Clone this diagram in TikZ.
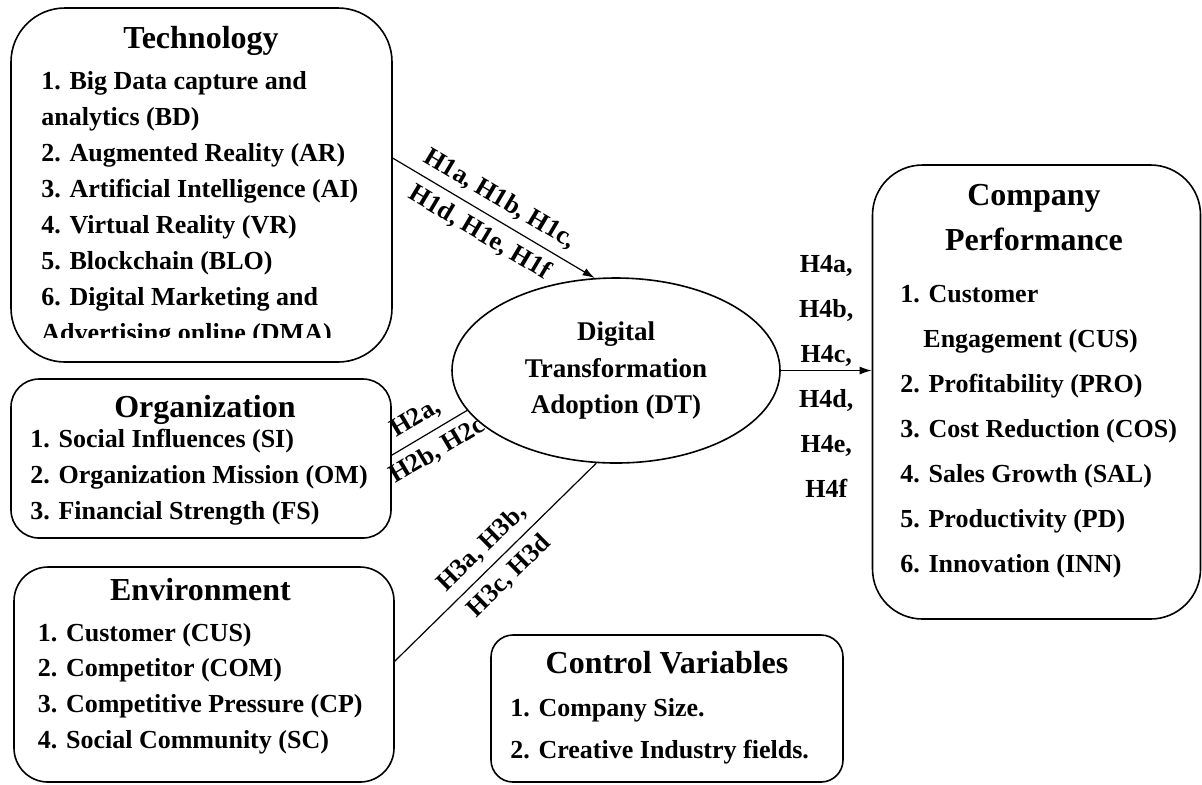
\documentclass[tikz,border=0pt]{standalone}
\usepackage{fontspec}
\setmainfont{Liberation Serif}
\usetikzlibrary{shapes.geometric,arrows.meta}
\tikzset{
  groupbox/.style={draw, line width=0.8pt, inner sep=0pt},
  heading/.style={font=\fontsize{16}{#1}\selectfont\bfseries, inner sep=0pt, align=center},
  heading/.default=20pt,
  itemlist/.style={font=\fontsize{13}{#1}\selectfont\bfseries, inner sep=0pt, align=left},
  itemlist/.default=18pt,
  hyplabel/.style={font=\fontsize{13}{22.5}\selectfont\bfseries, inner sep=4pt},
  link/.style={line width=0.6pt},
  tip/.style={-{Latex[length=6pt,width=4pt]}}
}
\pgfdeclarelayer{behind}
\pgfsetlayers{behind,main}

\begin{document}
\begin{tikzpicture}[x=0.5pt, y=-0.5pt]
  \useasboundingbox (0,0) rectangle (1202,784);

  % boxes
  \node[groupbox, minimum width=190.5pt, minimum height=177pt, rounded corners=27pt] (tech) at (201.5,185) {};
  \node[groupbox, minimum width=190pt, minimum height=79.5pt, rounded corners=14pt] (org) at (201,458.5) {};
  \node[groupbox, minimum width=190pt, minimum height=107.5pt, rounded corners=17pt] (env) at (204,674.5) {};
  \node[groupbox, minimum width=164pt, minimum height=227pt, rounded corners=25pt] (comp) at (1036.5,392) {};
  \node[groupbox, minimum width=176pt, minimum height=73.5pt, rounded corners=11pt] (ctrl) at (667,708.5) {};
  \node[groupbox, ellipse, fill=white, minimum width=164pt, minimum height=92.5pt, align=center,
        font=\fontsize{13.5}{18.25}\selectfont\bfseries] (dt) at (616,370.5) {Digital\\Transformation\\Adoption (DT)};

  % texts (base = last line)
  \node[heading, anchor=base] (techtitle) at (201,48) {Technology};
  \begin{scope}
    \clip (11,8) rectangle (392,337);
    \node[itemlist, anchor=base west] (techitems) at (41,341) {1. Big Data capture and\\analytics (BD)\\2. Augmented Reality (AR)\\3. Artificial Intelligence (AI)\\4. Virtual Reality (VR)\\5. Blockchain (BLO)\\6. Digital Marketing and\\Advertising online (DMA)};
  \end{scope}
  \node[heading, anchor=base] (orgtitle) at (205,417) {Organization};
  \node[itemlist, anchor=base west] (orgitems) at (30,519) {1. Social Influences (SI)\\2. Organization Mission (OM)\\3. Financial Strength (FS)};
  \node[heading, anchor=base] (envtitle) at (200.5,600) {Environment};
  \node[itemlist=17.8pt, anchor=base west] (envitems) at (37.5,748) {1. Customer (CUS)\\2. Competitor (COM)\\3. Competitive Pressure (CP)\\4. Social Community (SC)};
  \node[heading=22.5pt, anchor=base] (comptitle) at (1034,250) {Company\\Performance};
  \node[itemlist=22.5pt, anchor=base west] (compitems) at (900,572) {1. Customer\\\hspace*{11.5pt}Engagement (CUS)\\2. Profitability (PRO)\\3. Cost Reduction (COS)\\4. Sales Growth (SAL)\\5. Productivity (PD)\\6. Innovation (INN)};
  \node[heading, anchor=base] (ctrltitle) at (667,673) {Control Variables};
  \node[itemlist=21pt, anchor=base west] (ctrlitems) at (510,758) {1. Company Size.\\2. Creative Industry fields.};

  % hypotheses
  \begin{pgfonlayer}{behind}
    \draw[link, tip] (tech.8.4) -- (dt.103)
      node[hyplabel, sloped, above, pos=0.48] (h1top) {H1a, H1b, H1c,}
      node[hyplabel, sloped, below, pos=0.48] (h1bot) {H1d, H1e, H1f};
    \draw[link] (org.1.7) -- (dt.195)
      node[hyplabel, sloped, above, pos=0.45] (h2top) {H2a,}
      node[hyplabel, sloped, below, pos=0.47] (h2bot) {H2b, H2c};
    \draw[link] (env.4.4) -- (dt.258)
      node[hyplabel, sloped, above, pos=0.5] (h3top) {H3a, H3b,}
      node[hyplabel, sloped, below, pos=0.5] (h3bot) {H3c, H3d};
    \draw[link, tip] (dt.east) -- (dt.east -| comp.west)
      node[hyplabel, align=center, midway, yshift=-3pt] (h4lab) {H4a,\\H4b,\\H4c,\\H4d,\\H4e,\\H4f};
  \end{pgfonlayer}
\end{tikzpicture}
\end{document}
